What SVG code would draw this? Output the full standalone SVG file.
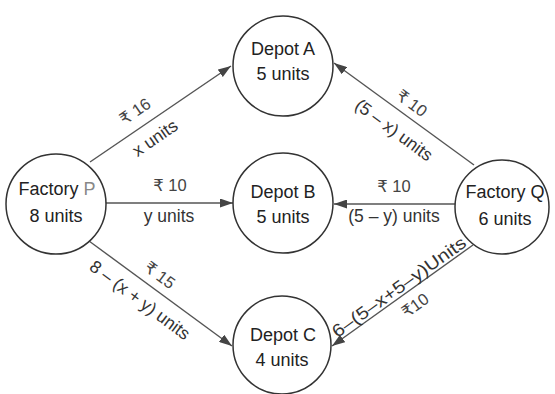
<svg xmlns="http://www.w3.org/2000/svg" width="555" height="394" viewBox="0 0 555 394">
<defs>
<style>
.node circle{fill:#fff;stroke:#333;stroke-width:1.5}
.node text{font-family:"Liberation Sans","DejaVu Sans",Arial,sans-serif;font-size:18px;fill:#222;text-anchor:middle}
.edge{stroke:#555;stroke-width:1.4;fill:none;marker-end:url(#arr)}
.lbl{font-family:"Liberation Sans","DejaVu Sans",Arial,sans-serif;font-size:17.5px;fill:#333;text-anchor:middle}
.cost{font-size:16.5px;fill:#444}
.grey{fill:#888}
</style>
<marker id="arr" markerUnits="userSpaceOnUse" markerWidth="13" markerHeight="9" refX="13" refY="4.5" orient="auto">
<path d="M0,0 L13,4.5 L0,9 Z" fill="#444"/>
</marker>
</defs>
<rect width="555" height="394" fill="#fff"/>
<g id="connectors">
<path class="edge" d="M90,162 L231,66"/>
<path class="edge" d="M106,203 L233,203"/>
<path class="edge" d="M89,241 L232,346"/>
<path class="edge" d="M474,165 L334,63"/>
<path class="edge" d="M455,204 L334,204"/>
<path class="edge" d="M473,245 L332,346"/>
<text class="lbl cost" transform="translate(135,111) rotate(-34.5)" y="6">₹ 16</text>
<text class="lbl" transform="translate(155,138) rotate(-34.5)" y="6">x units</text>
<text class="lbl cost" x="170" y="191">₹ 10</text>
<text class="lbl" x="169" y="222">y units</text>
<text class="lbl cost" transform="translate(160,275) rotate(36.6)" y="6">₹ 15</text>
<text class="lbl" transform="translate(140,300) rotate(36.6)" y="6">8 – (x + y) units</text>
<text class="lbl cost" transform="translate(412,103) rotate(36.5)" y="6">₹ 10</text>
<text class="lbl" transform="translate(394,130) rotate(36.5)" y="6">(5 – x) units</text>
<text class="lbl cost" x="394" y="192">₹ 10</text>
<text class="lbl" x="394" y="222">(5 – y) units</text>
<text class="lbl" transform="translate(399,287) rotate(-35.5)" y="6" font-size="16" textLength="160" lengthAdjust="spacingAndGlyphs">6–(5–x+5–y)Units</text>
<text class="lbl cost" transform="translate(415,305) rotate(-35.5)" y="6">₹10</text>
</g>
<g id="factoryP" class="node">
<circle cx="56" cy="204" r="50"/>
<text x="57" y="195">Factory <tspan class="grey">P</tspan></text>
<text x="56" y="222">8 units</text>
</g>
<g id="depotA" class="node">
<circle cx="283" cy="66" r="50"/>
<text x="283" y="55">Depot A</text>
<text x="283" y="80">5 units</text>
</g>
<g id="depotB" class="node">
<circle cx="283" cy="203" r="50"/>
<text x="283" y="198">Depot B</text>
<text x="283" y="223">5 units</text>
</g>
<g id="depotC" class="node">
<circle cx="282" cy="345" r="49"/>
<text x="283" y="341">Depot C</text>
<text x="282" y="366">4 units</text>
</g>
<g id="factoryQ" class="node">
<circle cx="502" cy="207" r="47"/>
<text x="505" y="198">Factory Q</text>
<text x="505" y="225">6 units</text>
</g>
</svg>
